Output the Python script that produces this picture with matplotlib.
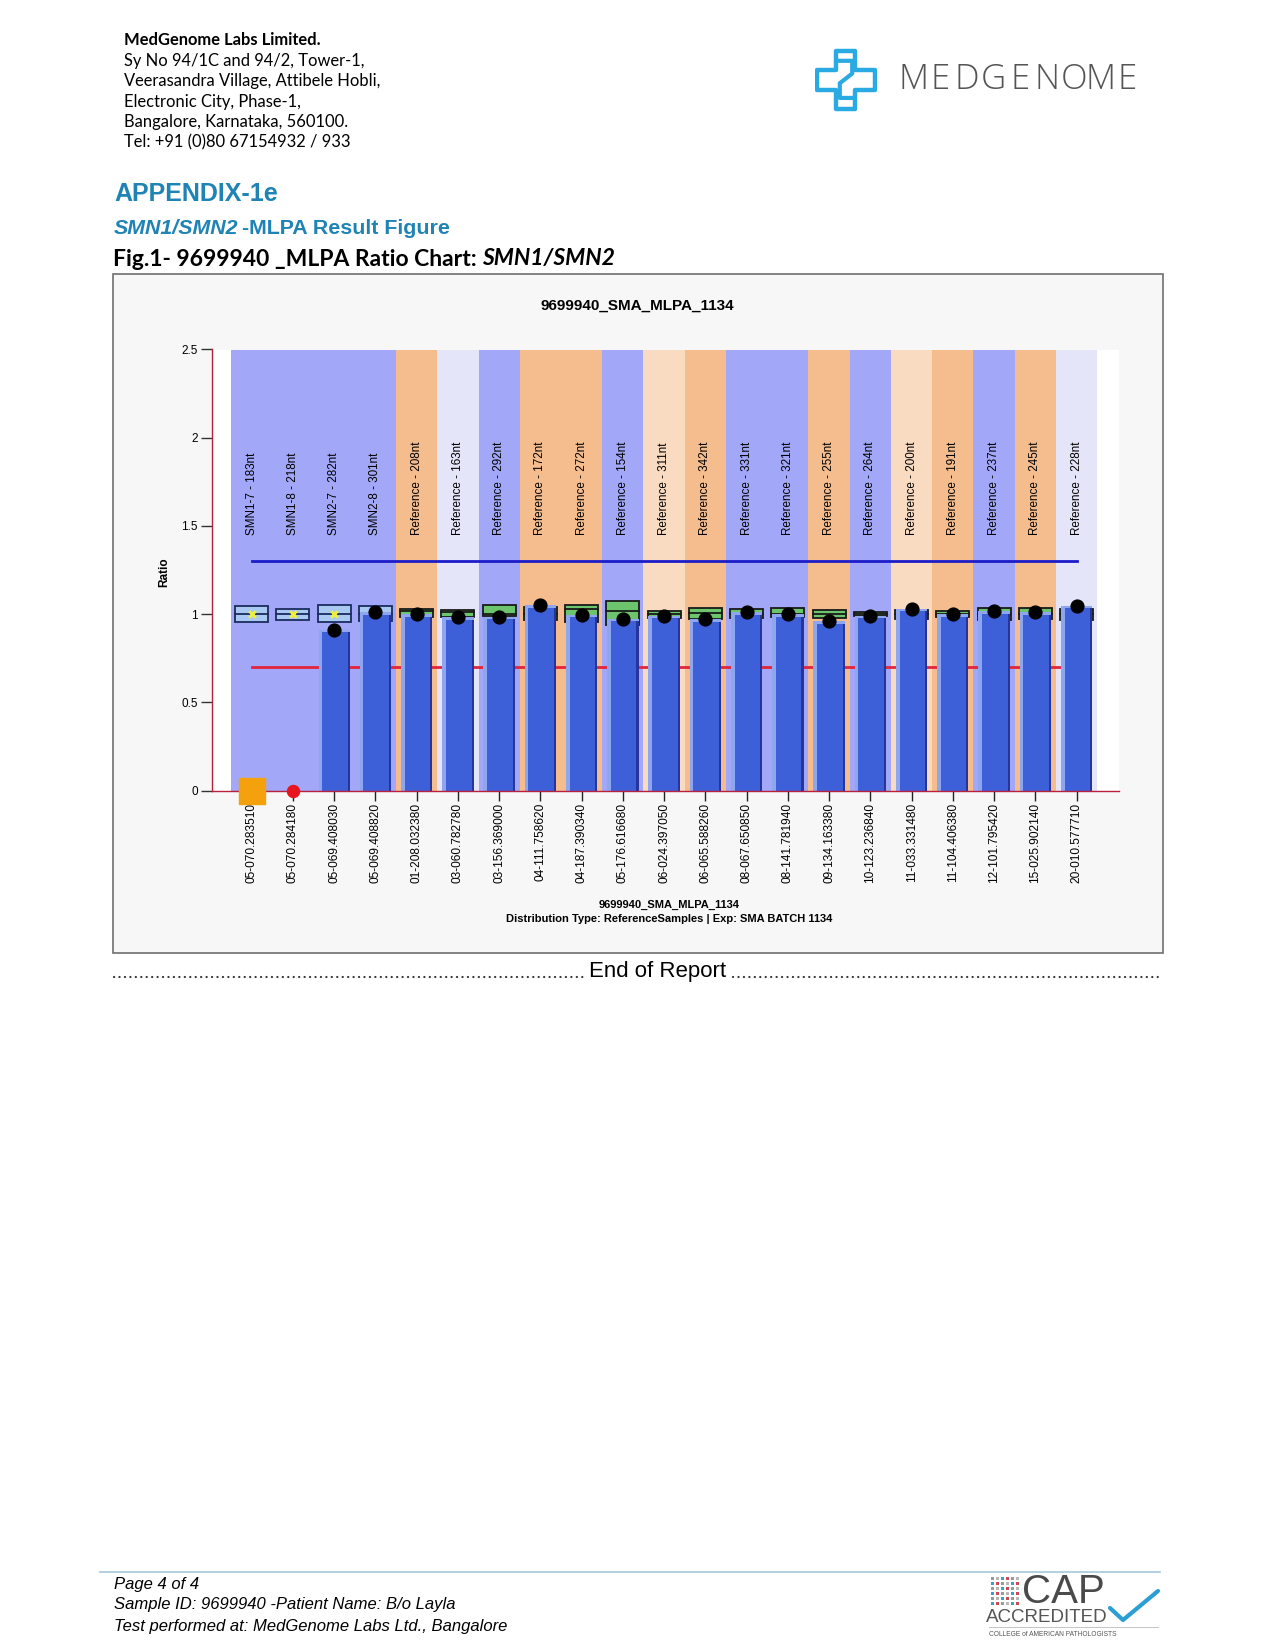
import matplotlib
matplotlib.use("Agg")
import matplotlib.pyplot as plt
from matplotlib import font_manager
from matplotlib.patches import Rectangle, Polygon
from matplotlib.lines import Line2D

# ---- data ----
probes = ['SMN1-7 - 183nt', 'SMN1-8 - 218nt', 'SMN2-7 - 282nt', 'SMN2-8 - 301nt',
          'Reference - 208nt', 'Reference - 163nt', 'Reference - 292nt', 'Reference - 172nt',
          'Reference - 272nt', 'Reference - 154nt', 'Reference - 311nt', 'Reference - 342nt',
          'Reference - 331nt', 'Reference - 321nt', 'Reference - 255nt', 'Reference - 264nt',
          'Reference - 200nt', 'Reference - 191nt', 'Reference - 237nt', 'Reference - 245nt',
          'Reference - 228nt']
positions = ['05-070.283510', '05-070.284180', '05-069.408030', '05-069.408820',
             '01-208.032380', '03-060.782780', '03-156.369000', '04-111.758620',
             '04-187.390340', '05-176.616680', '06-024.397050', '06-065.588260',
             '08-067.650850', '08-141.781940', '09-134.163380', '10-123.236840',
             '11-033.331480', '11-104.406380', '12-101.795420', '15-025.902140',
             '20-010.577710']
ratio = [0.0, 0.0, 0.912, 1.01, 1.0, 0.983, 0.987, 1.053, 0.997, 0.974, 0.991,
         0.972, 1.01, 1.002, 0.959, 0.991, 1.031, 1.002, 1.016, 1.012, 1.048]
box_hi = [1.046, 1.031, 1.05, 1.044, 1.029, 1.025, 1.05, 1.04, 1.053, 1.076, 1.019,
          1.038, 1.029, 1.035, 1.025, 1.01, 1.025, 1.016, 1.038, 1.035, 1.03]
box_lo = [0.955, 0.968, 0.955, 0.96, 0.985, 0.985, 0.99, 0.97, 0.955, 0.94, 0.981,
          0.972, 0.98, 0.985, 0.978, 0.991, 0.975, 0.985, 0.97, 0.975, 0.97]
box_mid = [1.0, 1.0, 1.0, 1.0, 1.021, 1.015, 1.0, 1.0, 1.03, 1.019, 1.0,
           1.006, 1.0, 1.0, 1.0, 1.0, 1.0, 1.0, 1.0, 1.0, 1.0]
# background band of each probe column
band = ['per', 'per', 'per', 'per', 'ora', 'lav', 'per', 'ora', 'ora', 'per', 'pea',
        'ora', 'per', 'per', 'ora', 'per', 'pea', 'ora', 'per', 'ora', 'lav']
# marker kind for the sample ratio
marker_kind = ['del_sq', 'del_dot'] + ['ok'] * 19
upper_thr = 1.3
lower_thr = 0.7
yticks = [0, 0.5, 1, 1.5, 2, 2.5]
ytick_labels = ['0', '0.5', '1', '1.5', '2', '2.5']

band_colors = {'per': '#a2a8f7', 'ora': '#f5bd8d', 'lav': '#e4e5f9', 'pea': '#f9dbc1'}

# fonts
names = {f.name for f in font_manager.fontManager.ttflist}
BODY = 'Lato' if 'Lato' in names else 'Liberation Sans'
plt.rcParams['font.family'] = ['Liberation Sans', 'DejaVu Sans']

W, H = 1275, 1650
fig = plt.figure(figsize=(W / 100, H / 100), dpi=100)
fig.patch.set_facecolor('white')


def fx(px):
    return px / W


def fy(py):
    return 1 - py / H


renderer = fig.canvas.get_renderer()


def runs(x_px, y_px, parts, **common):
    # draw text pieces one after the other on one line
    x = x_px
    for txt, kw, gap in parts:
        t = fig.text(fx(x), fy(y_px), txt, ha='left', va='center', **common, **kw)
        bb = t.get_window_extent(renderer=renderer)
        x = bb.x1 + gap


# ---- page header ----
fig.text(fx(124), fy(40), 'MedGenome Labs Limited.', family=BODY, weight='bold',
         fontsize=11.9, va='center')
addr = ['Sy No 94/1C and 94/2, Tower-1,', 'Veerasandra Village, Attibele Hobli,',
        'Electronic City, Phase-1,', 'Bangalore, Karnataka, 560100.',
        'Tel: +91 (0)80 67154932 / 933']
for k, line in enumerate(addr):
    fig.text(fx(124), fy(61 + 20.3 * k), line, family=BODY, fontsize=11.9, va='center')

# logo icon
lax = fig.add_axes([fx(815), fy(112), 62 / W, 64 / H])
lax.set_xlim(0, 10)
lax.set_ylim(0, 10)
lax.axis('off')
cyan = '#2aaae2'
cross = [(3.4, 9.6), (6.4, 9.6), (6.4, 6.5), (9.6, 6.5), (9.6, 3.5), (6.4, 3.5),
         (6.4, 0.4), (3.4, 0.4), (3.4, 3.5), (0.4, 3.5), (0.4, 6.5), (3.4, 6.5)]
lax.add_patch(Polygon(cross, closed=True, fill=False, ec=cyan, lw=3.2, joinstyle='round'))
lax.plot([3.4, 6.0, 6.0, 4.0, 4.0, 6.4], [8.0, 8.0, 6.0, 4.5, 2.2, 2.2], color=cyan, lw=3,
         solid_joinstyle='round')

for k, ch in enumerate('MEDGENOME'):
    fig.text(fx(913 + 26.8 * k), fy(80), ch, family='Open Sans', fontsize=25,
             color='#555555', ha='center', va='center', weight='light')

# headings
teal = '#1f83b5'
fig.text(fx(114), fy(194), 'APPENDIX-1e', weight='bold', fontsize=18,
         color=teal, va='center')
runs(114, 229, [('SMN1/SMN2', dict(style='italic'), 4),
                ('-MLPA Result Figure', {}, 0)],
     weight='bold', fontsize=15.4, color=teal)
runs(113, 259, [('Fig.1- 9699940 _MLPA Ratio Chart:', {}, 5),
                ('SMN1/SMN2', dict(style='italic'), 0)],
     family=BODY, weight='bold', fontsize=16.5, color='black')

# chart frame
fig.patches.append(Rectangle((fx(113), fy(953)), fx(1163) - fx(113), fy(274) - fy(953),
                             transform=fig.transFigure, fc='#f7f7f7', ec='#6f6f6f',
                             lw=1.2, zorder=-1))

# ---- the ratio chart ----
n = len(probes)
ax = fig.add_axes([fx(211.7), fy(790.7), (1119 - 211.7) / W, (790.7 - 349.5) / H])
ax.set_zorder(2)
ax.set_facecolor('white')
ax.set_xlim(-0.97, n + 0.03)
ax.set_ylim(0, 2.5)

for i, b in enumerate(band):
    ax.axvspan(i - 0.5, i + 0.5, color=band_colors[b], lw=0, zorder=0)

ax.plot([0, n - 1], [lower_thr, lower_thr], color='#e3243b', lw=2, zorder=1)
ax.plot([0, n - 1], [upper_thr, upper_thr], color='#1c1cc8', lw=2, zorder=6)

for i in range(n):
    smn = probes[i].startswith('SMN')
    fc = '#a9c9f2' if smn else '#6cc46c'
    ec = '#1b2b5e' if smn else '#1a1a1a'
    ax.add_patch(Rectangle((i - 0.4, box_lo[i]), 0.8, box_hi[i] - box_lo[i], fc=fc, ec=ec,
                           lw=1.3, zorder=2))
    ax.plot([i - 0.4, i + 0.4], [box_mid[i], box_mid[i]], color=ec, lw=1.3, zorder=2)
    if smn and ratio[i] < 0.95:
        ax.scatter(i, box_mid[i], marker='x', s=22, color='#eef03c', lw=2, zorder=2.5)

# bars with light left/top and dark right edge
for i, h in enumerate(ratio):
    if h <= 0:
        continue
    ax.bar(i, h, width=0.76, color='#8ea5f0', lw=0, zorder=3)
    ax.bar(i + 0.02, h - 0.015, width=0.62, color='#3d60d8', lw=0, zorder=3.1)
    ax.bar(i + 0.355, h - 0.015, width=0.05, color='#26359c', lw=0, zorder=3.2)

for i, kind in enumerate(marker_kind):
    if kind == 'del_sq':
        ax.scatter(i, ratio[i], marker='s', s=330, color='#f5a10e', zorder=7, clip_on=False)
    elif kind == 'del_dot':
        ax.scatter(i, ratio[i], marker='o', s=75, color='#e8141e', zorder=7, clip_on=False)
    else:
        ax.scatter(i, ratio[i], marker='o', s=85, color='black', zorder=7)

for i, p in enumerate(probes):
    ax.text(i, 1.45, p, rotation=90, ha='center', va='bottom', fontsize=8.4, zorder=8)

ax.set_xticks(range(n))
ax.set_xticklabels(positions, rotation=90, fontsize=8.6)
ax.set_yticks(yticks)
ax.set_yticklabels(ytick_labels, fontsize=8.5)
ax.tick_params(axis='x', length=7, width=1, color='#222222', pad=2)
ax.tick_params(axis='y', length=8, width=1, color='#333333', pad=2)
for s in ['top', 'right']:
    ax.spines[s].set_visible(False)
for s in ['left', 'bottom']:
    ax.spines[s].set_color('#b8203c')
    ax.spines[s].set_linewidth(1)
    ax.spines[s].set_zorder(5)

fig.text(fx(164), fy(572), 'Ratio', rotation=90, weight='bold', fontsize=8.5,
         ha='center', va='center')
fig.text(fx(637), fy(306), '9699940_SMA_MLPA_1134', weight='bold', fontsize=11,
         ha='center', va='center')
fig.text(fx(669), fy(905), '9699940_SMA_MLPA_1134', weight='bold', fontsize=8,
         ha='center', va='center')
fig.text(fx(669), fy(919), 'Distribution Type: ReferenceSamples | Exp: SMA BATCH 1134',
         weight='bold', fontsize=8, ha='center', va='center')

# end of report
fig.text(fx(658), fy(971), 'End of Report', fontsize=16, ha='center', va='center')
for x0, x1 in [(114, 584), (733, 1163)]:
    fig.add_artist(Line2D([fx(x0), fx(x1)], [fy(977), fy(977)], transform=fig.transFigure,
                          color='#333333', lw=1.6, linestyle=(0, (0.05, 2.4)),
                          dash_capstyle='round'))

# ---- footer ----
fig.add_artist(Line2D([fx(100), fx(1160)], [fy(1572), fy(1572)], transform=fig.transFigure,
                      color='#a9c7dc', lw=1.2))
foot = ['Page 4 of 4', 'Sample ID: 9699940 -Patient Name: B/o Layla',
        'Test performed at: MedGenome Labs Ltd., Bangalore']
for k, line in enumerate(foot):
    fig.text(fx(114), fy(1584 + 21 * k), line, style='italic', fontsize=12, va='center')

# CAP logo
dot_cols = ['#9a9a9a', '#d04858', '#3aa0c8', '#b8b8b8']
for r in range(6):
    for c in range(6):
        col = dot_cols[(r * 2 + c * 3) % 4]
        fig.patches.append(Rectangle((fx(991 + 5 * c), fy(1580 + 5 * r)), 3.2 / W, 3.2 / H,
                                     transform=fig.transFigure, fc=col, ec='none'))
fig.text(fx(1022), fy(1592), 'CAP', fontsize=29, color='#4a4a4a', va='center')
fig.text(fx(986), fy(1617), 'ACCREDITED', fontsize=13.5, color='#555555', va='center')
fig.add_artist(Line2D([fx(1110), fx(1123), fx(1158)], [fy(1608), fy(1620), fy(1591)],
                      transform=fig.transFigure, color='#2b9fd3', lw=3,
                      solid_capstyle='round'))
fig.add_artist(Line2D([fx(989), fx(1158)], [fy(1627), fy(1627)], transform=fig.transFigure,
                      color='#bbbbbb', lw=0.6))
fig.text(fx(989), fy(1634), 'COLLEGE of AMERICAN PATHOLOGISTS', fontsize=4.8,
         color='#555555', va='center')

fig.savefig('out.png', dpi=100)
